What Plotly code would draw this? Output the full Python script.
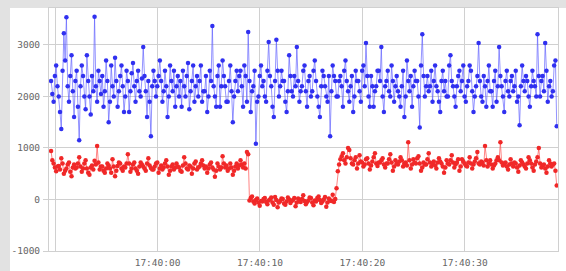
import plotly.graph_objects as go
import pandas as pd

start_time = "2013-01-01 17:39:49.6"
step_ms = 125

blue_values = [
    2300, 2050, 1900, 2400, 2600, 2200, 2000, 1700, 1370, 2500, 3230, 2700, 3540, 2200, 1900, 2400, 2800, 2100, 1600, 2300,
    2500, 1800, 1150, 2200, 2600, 2400, 2000, 1750, 2800, 2300, 2000, 1650, 2400, 2100, 3550, 2200, 1900, 2500, 2300, 2050,
    2400, 1800, 2100, 2700, 2300, 1500, 1900, 2600, 2200, 2000, 2750, 2300, 1800, 2100, 2400, 2600, 2200, 1700, 2000, 2500,
    2300, 1700, 2100, 2450, 2650, 2200, 1900, 2300, 2500, 2100, 2000, 2350, 2960, 2400, 2100, 1600, 2300, 1900, 1230, 2200,
    2500, 2300, 2000, 2200, 2400, 2700, 2300, 1900, 2100, 2500, 2200, 1600, 2000, 2600, 2300, 2100, 2500, 1800, 2200, 2400,
    2000, 2300, 1800, 2500, 2200, 2000, 2400, 2650, 1750, 2100, 2300, 2600, 1900, 2200, 2400, 2000, 2300, 2600, 1900, 2100,
    2100, 2400, 1700, 2000, 2500, 2300, 3370, 2200, 2000, 1800, 2400, 2600, 1800, 2200, 2700, 2400, 2200, 1900, 1900, 2300,
    2600, 2100, 1500, 2000, 2300, 2500, 2100, 2400, 2500, 2200, 1800, 2600, 2400, 1900, 3250, 2300, 1700, 2100, 2200, 2500,
    1080, 1900, 2000, 2400, 2600, 2200, 2300, 2000, 1900, 2500, 3060, 2400, 2200, 1800, 1600, 2300, 3100, 2500, 2000, 2200,
    2500, 2300, 2300, 1900, 1700, 2100, 2800, 2400, 2100, 2000, 2400, 2200, 2960, 2300, 1900, 2100, 2200, 2500, 2600, 2100,
    1800, 2300, 2400, 2000, 2100, 2500, 2700, 2300, 2000, 1800, 1600, 2200, 2500, 2400, 2200, 2000, 1900, 2400, 1230, 2100,
    2600, 2400, 2300, 2000, 2000, 2300, 2400, 2200, 1800, 2500, 2700, 2300, 2100, 1900, 2200, 2400, 1700, 2000, 2500, 2300,
    2300, 2100, 1900, 2500, 2600, 2200, 3040, 2400, 2000, 1800, 2400, 2200, 1800, 2100, 2200, 2500, 2500, 2300, 2960, 2000,
    1700, 2200, 2300, 2500, 2100, 2000, 2600, 2300, 1900, 2200, 2400, 2100, 2000, 1800, 2200, 2500, 1600, 2000, 2700, 2300,
    2100, 2400, 1800, 2200, 2500, 2300, 2300, 2000, 1400, 2600, 3210, 2400, 2000, 2200, 2400, 2100, 2200, 2500, 1900, 2300,
    2600, 2200, 2100, 1900, 1700, 2300, 2500, 2100, 2300, 2000, 2000, 2600, 2800, 2300, 2200, 2000, 1800, 2200, 2400, 2500,
    2100, 2300, 2600, 2000, 1900, 2200, 2300, 2600, 2500, 2100, 1700, 2000, 2200, 2400, 3040, 2300, 2000, 1900, 2400, 2200,
    1800, 2300, 2600, 2100, 2100, 1800, 2300, 2500, 1900, 2200, 2960, 2400, 2200, 2000, 1700, 2300, 2500, 2100, 2000, 2300,
    2400, 2100, 2200, 2500, 1900, 2000, 1440, 2200, 2600, 2300, 2100, 2400, 2300, 2000, 1800, 2200, 2500, 2300, 2200, 2000,
    3210, 2400, 2000, 2300, 2400, 2100, 3040, 2500, 1900, 2200, 2300, 2000, 2100, 2600, 2700, 1420,
]

red_values = [
    940, 760, 700, 620, 550, 640, 650, 580, 800, 700, 500, 560, 600, 680, 720, 540, 450, 620, 680, 600,
    620, 700, 820, 640, 540, 600, 700, 760, 600, 520, 480, 620, 660, 580, 750, 680, 1040, 720, 580, 640,
    640, 560, 520, 600, 700, 660, 600, 520, 780, 640, 450, 560, 650, 720, 700, 600, 560, 640, 620, 700,
    880, 700, 540, 600, 680, 720, 600, 560, 500, 640, 720, 680, 640, 600, 560, 700, 800, 660, 610, 580,
    580, 640, 700, 720, 520, 600, 660, 580, 620, 700, 760, 640, 480, 560, 640, 680, 580, 620, 700, 640,
    620, 560, 540, 660, 820, 700, 600, 580, 660, 640, 500, 600, 700, 740, 580, 620, 640, 700, 760, 660,
    600, 640, 520, 600, 680, 720, 620, 580, 440, 560, 700, 640, 580, 620, 840, 700, 620, 660, 560, 600,
    700, 620, 480, 560, 640, 700, 600, 660, 760, 680, 620, 700, 600, 920, 880,
    -20, 30, 60, -40, -80, -10, 20, -60, -120, -30, -40, 10, 30, -50, -90, -20, 0, 40, -60, -100,
    50, -10, -150, -60, -30, 20, 10, -80, -100, -40, 40, 0, -70, -30, -10, 30, -130, -60, 20, -20,
    -50, 10, 80, -30, -90, -50, -20, 40, 30, -60, -110, -20, -40, 30, 60, -10, -70, -40, 0, 50,
    -140, -60, 20, -20, -30, 90, -50, 10, 220,
    550, 680, 780, 840, 900, 760, 700, 820, 1000, 960, 800, 700, 680, 760, 820,
    600, 700, 860, 740, 720, 640, 680, 780, 800, 700, 580, 660, 740, 820, 900, 700, 650, 720, 720, 760,
    800, 680, 620, 700, 700, 780, 880, 720, 560, 640, 760, 700, 680, 740, 820, 760, 640, 700, 720, 660,
    1110, 760, 600, 680, 780, 720, 700, 800, 840, 700, 560, 620, 720, 680, 680, 780, 900, 720, 640, 700,
    740, 660, 600, 720, 800, 740, 700, 640, 520, 620, 760, 700, 680, 760, 860, 720, 620, 680, 720, 780,
    560, 640, 780, 740, 700, 660, 640, 720, 820, 700, 600, 680, 740, 800, 920, 700, 680, 740, 720, 660,
    1040, 760, 640, 700, 760, 680, 600, 660, 700, 760, 820, 760, 1110, 720, 660, 700, 720, 640, 580, 680,
    780, 700, 640, 720, 700, 620, 540, 660, 760, 720, 680, 640, 600, 700, 820, 760, 700, 620, 560, 680,
    740, 820, 1000, 700, 620, 660, 680, 600, 520, 640, 760, 700, 640, 680, 700, 560, 270,
]

y_ticks = [-1000, 0, 1000, 2000, 3000]
x_ticks = ["2013-01-01 17:39:50", "2013-01-01 17:40:00", "2013-01-01 17:40:10",
           "2013-01-01 17:40:20", "2013-01-01 17:40:30"]
x_tick_labels = ["", "17:40:00", "17:40:10", "17:40:20", "17:40:30"]

times = pd.date_range(start=start_time, periods=len(blue_values), freq=f"{step_ms}ms")

fig = go.Figure()
fig.add_trace(go.Scatter(
    x=times, y=blue_values, mode="lines+markers",
    line=dict(color="rgba(90,90,255,0.65)", width=1),
    marker=dict(color="#3030f0", size=4.5),
    cliponaxis=False,
))
fig.add_trace(go.Scatter(
    x=times, y=red_values, mode="lines+markers",
    line=dict(color="rgba(255,80,80,0.7)", width=1),
    marker=dict(color="#f02828", size=4.5),
    cliponaxis=False,
))

tick_font = dict(family="DejaVu Sans Mono", size=9.5, color="#666666")
grid_color = "#d0d0d0"

fig.update_layout(
    width=566, height=271,
    margin=dict(l=49, r=8, t=8, b=20, autoexpand=False),
    paper_bgcolor="#e2e2e2",
    plot_bgcolor="white",
    showlegend=False,
    shapes=[dict(type="rect", xref="paper", yref="paper",
                 x0=-0.0766, x1=1.02, y0=-0.09, y1=1.0,
                 fillcolor="white", line=dict(width=0), layer="below")],
    xaxis=dict(
        range=["2013-01-01 17:39:49.4", "2013-01-01 17:40:39.1"],
        tickvals=x_ticks, ticktext=x_tick_labels,
        showgrid=True, gridcolor=grid_color, gridwidth=1,
        zeroline=False, showline=True, linecolor=grid_color, mirror=True,
        ticks="", tickfont=tick_font, ticklabelstandoff=3,
    ),
    yaxis=dict(
        range=[-1000, 3718], tickvals=y_ticks, ticktext=[str(v) for v in y_ticks],
        showgrid=True, gridcolor=grid_color, gridwidth=1,
        zeroline=False, showline=True, linecolor=grid_color, mirror=True,
        ticks="outside", ticklen=5, tickcolor=grid_color,
        tickfont=tick_font, ticklabelstandoff=1,
    ),
)

fig.write_html("out.html", config={"displayModeBar": False},
               post_script="document.body.style.margin='0';")
